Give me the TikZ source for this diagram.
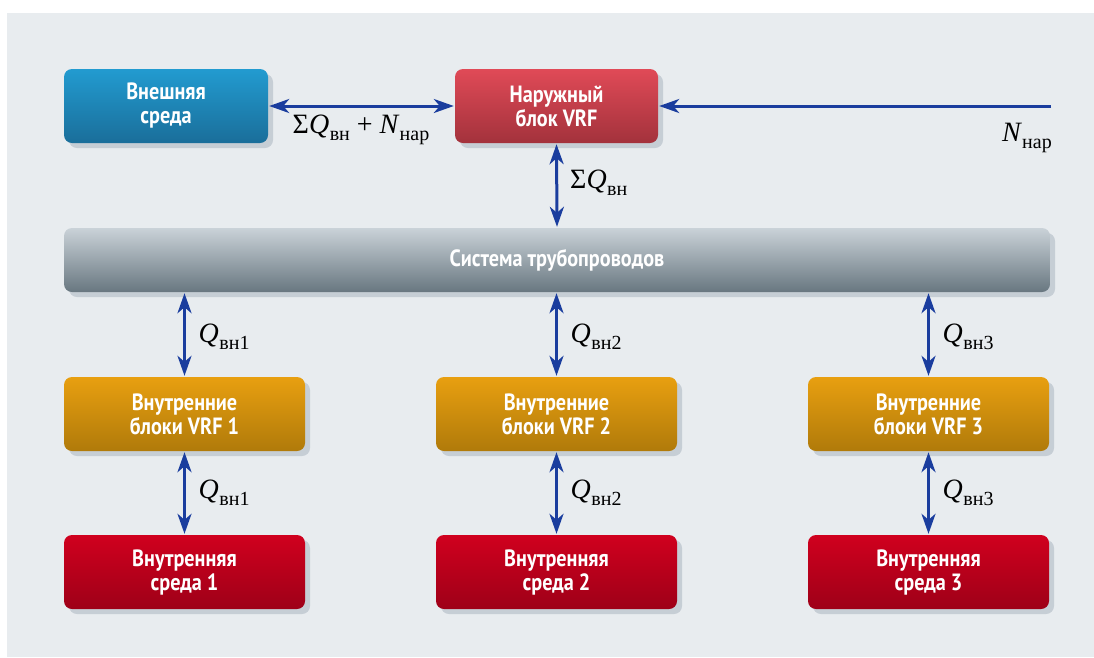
\documentclass[tikz,border=0pt]{standalone}
\usepackage{fontspec}
\usetikzlibrary{arrows.meta,shadows,shadings}
\newfontfamily\boxfont[FakeStretch=0.86]{PT Sans}
\newfontfamily\lblfont{Liberation Serif}
\definecolor{bgc}{HTML}{E8ECEF}
\definecolor{shc}{HTML}{C6CED5}
\definecolor{arrc}{HTML}{1A3D9E}
\definecolor{blueT}{RGB}{34,155,208}
\definecolor{blueB}{RGB}{26,110,154}
\definecolor{redT}{RGB}{224,74,87}
\definecolor{redB}{RGB}{163,50,60}
\definecolor{grayT}{RGB}{202,210,216}
\definecolor{grayB}{RGB}{104,119,128}
\definecolor{orT}{RGB}{232,159,16}
\definecolor{orB}{RGB}{176,122,10}
\definecolor{crT}{RGB}{208,0,30}
\definecolor{crB}{RGB}{158,0,24}
\newcommand{\sub}[1]{\raisebox{-0.24em}{\fontsize{20}{20}\selectfont #1}}
\newcommand{\Qv}{\textit{Q}\kern0.5pt\sub{вн}}
\begin{document}
\begin{tikzpicture}[x=1pt,y=-1pt,
  box/.style={rounded corners=8pt, minimum width=241pt, minimum height=74pt,
    inner sep=0pt, align=center, text=white,
    font=\boxfont\bfseries\fontsize{23.5}{24}\selectfont,
    general shadow={fill=shc, shadow xshift=5pt, shadow yshift=-5pt}},
  arr/.style={draw=arrc, line width=3pt, {Stealth[length=20pt,width=14pt,inset=6pt]}-{Stealth[length=20pt,width=14pt,inset=6pt]}, shorten <=1pt, shorten >=1pt},
  arrone/.style={draw=arrc, line width=3pt, -{Stealth[length=20pt,width=14pt,inset=6pt]}, shorten >=1pt},
  lbl/.style={font=\lblfont\fontsize{28}{28}\selectfont, inner sep=0pt, text=black}]
\useasboundingbox (0,0) rectangle (1094,657);
\fill[white] (0,0) rectangle (1094,657);
\fill[bgc] (7,13) rectangle (1094,657);

\node[box, minimum width=204pt, top color=blueT, bottom color=blueB] (ext) at (166,106) {Внешняя\\среда};
\node[box, minimum width=203pt, top color=redT, bottom color=redB] (out) at (556.5,106) {Наружный\\блок VRF};
\node[box, minimum width=986pt, minimum height=64pt, top color=grayT, bottom color=grayB] (pipe) at (557,260) {Система трубопроводов};

\foreach \i/\x in {1/184.5,2/556.5,3/928.5}{
  \node[box, top color=orT, bottom color=orB] (in\i) at (\x,414) {Внутренние\\блоки VRF \i};
  \node[box, top color=crT, bottom color=crB] (env\i) at (\x,572) {Внутренняя\\среда \i};
  \draw[arr] (pipe.south -| in\i.north) -- (in\i.north);
  \draw[arr] (in\i.south) -- (env\i.north);
  \node[lbl, anchor=west] (qa\i) at (\x+14,337) {\textit{Q}\kern0.5pt\sub{вн\i}};
  \node[lbl, anchor=west] (qb\i) at (\x+14,493) {\textit{Q}\kern0.5pt\sub{вн\i}};
}

\coordinate (nfree) at (1051,106);
\draw[arr] (ext.east) -- (out.west);
\draw[arrone] (nfree) -- (out.east);
\draw[arr] (out.south) -- (pipe.north);

\node[lbl] (l1) at (361,130) {Σ\Qv{} + \textit{N}\sub{нар}};
\node[lbl] (l2) at (1027,138) {\textit{N}\sub{нар}};
\node[lbl, anchor=west] (l3) at (570,183) {Σ\Qv};
\end{tikzpicture}
\end{document}
